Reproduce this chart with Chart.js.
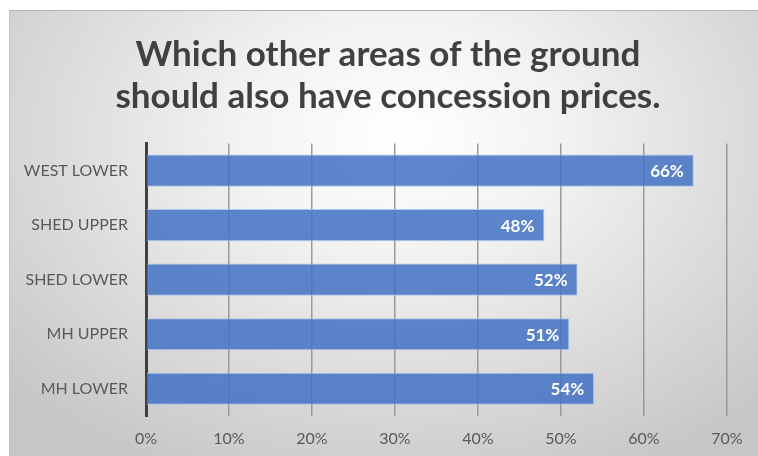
<!DOCTYPE html>
<html>
<head>
<meta charset="utf-8">
<script src="https://cdn.jsdelivr.net/npm/chart.js@4.4.1/dist/chart.umd.min.js"></script>
<style>
    body { margin: 0; background: #fff; }
    #marco {
        position: absolute; left: 9px; top: 10px; width: 749px; height: 446px;
        background: radial-gradient(ellipse 70% 85% at 52% 28%, #ffffff 0%, #f3f3f3 30%, #dcdcdc 65%, #c6c6c6 100%);
        border-top: 1px solid #b4b4b4;
        border-left: 1px solid #c4c4c4;
        box-sizing: border-box;
    }
    #grafico { display: block; }
</style>
</head>
<body>
<div id="marco"><canvas id="grafico" width="748" height="445"></canvas></div>
<script>
const zonas = ['WEST LOWER', 'SHED UPPER', 'SHED LOWER', 'MH UPPER', 'MH LOWER'];
const porcentajes = [66, 48, 52, 51, 54];
const marcasX = [0, 10, 20, 30, 40, 50, 60, 70];
const titulo = ['Which other areas of the ground', 'should also have concession prices.'];

// etiquetas blancas dentro del final de cada barra
const etiquetasBarras = {
    id: 'etiquetasBarras',
    afterDatasetsDraw(chart) {
        const ctx = chart.ctx;
        const meta = chart.getDatasetMeta(0);
        ctx.save();
        ctx.font = 'bold 17px Lato';
        ctx.fillStyle = '#ffffff';
        ctx.textAlign = 'right';
        ctx.textBaseline = 'middle';
        meta.data.forEach((barra, i) => {
            ctx.fillText(porcentajes[i] + '%', barra.x - 10, barra.y + 1);
        });
        ctx.restore();
    }
};

const ctx = document.getElementById('grafico').getContext('2d');
new Chart(ctx, {
    type: 'bar',
    data: {
        labels: zonas,
        datasets: [{
            data: porcentajes,
            backgroundColor: 'rgba(68, 114, 196, 0.86)',
            borderColor: 'rgba(170, 195, 235, 0.9)',
            borderWidth: 1,
            borderSkipped: 'start',
            categoryPercentage: 1,
            barPercentage: 0.59
        }]
    },
    options: {
        indexAxis: 'y',
        responsive: false,
        animation: false,
        layout: { padding: { left: 8, right: 0, top: 0, bottom: 0 } },
        plugins: {
            legend: { display: false },
            tooltip: { enabled: false },
            title: {
                display: true,
                text: titulo,
                color: '#404040',
                font: { family: 'Lato', size: 35, weight: 'bold', lineHeight: 1.22 },
                padding: { top: 22, bottom: 25 }
            }
        },
        scales: {
            x: {
                min: 0,
                max: 70,
                afterBuildTicks(scale) {
                    scale.ticks = marcasX.map(v => ({ value: v }));
                },
                afterFit(scale) {
                    scale.height = 40;
                    scale.paddingRight = 31;
                },
                ticks: {
                    color: '#595959',
                    font: { family: 'Lato', size: 16 },
                    padding: 13,
                    callback: v => v + '%'
                },
                grid: { color: '#9a9a9a', lineWidth: 1.5, drawTicks: false },
                border: { display: false }
            },
            y: {
                afterFit(scale) { scale.width = 128; },
                ticks: {
                    color: '#595959',
                    font: { family: 'Lato', size: 16 },
                    padding: 18
                },
                grid: { display: false, drawTicks: false },
                border: { color: '#404040', width: 3 }
            }
        }
    },
    plugins: [etiquetasBarras]
});
</script>
</body>
</html>
